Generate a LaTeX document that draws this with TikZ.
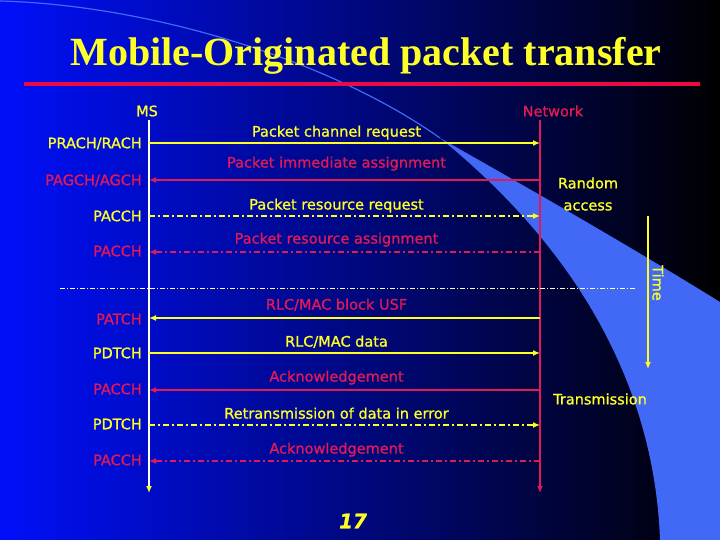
\documentclass[tikz,border=0pt]{standalone}
\usepackage{fontspec}
\setmainfont[FakeBold=1]{DejaVu Sans}
\newfontfamily\titlefont{Liberation Serif}
\usetikzlibrary{arrows.meta}
\definecolor{slideyellow}{RGB}{255,255,40}
\definecolor{slidered}{RGB}{225,25,85}
\definecolor{msline}{RGB}{255,255,225}
\definecolor{swoosh}{RGB}{65,105,245}
\definecolor{bgblue}{RGB}{0,15,250}
\definecolor{bgmid}{RGB}{0,0,195}
\definecolor{barred}{RGB}{235,10,70}

\begin{document}
\begin{tikzpicture}[x=1pt, y=-1pt,
    lbl/.style={font=\fontsize{14.5}{16}\selectfont},
    chan/.style={lbl, anchor=east, inner sep=0pt, text height=10.5pt, text depth=0pt},
    msg/.style={line width=1.8pt},
    msgtext/.style={lbl, midway, above, xshift=-8pt, inner sep=2pt,
        text height=11pt, text depth=3.5pt},
    tip/.style={-{Latex[length=7pt,width=6pt]}},
    dashdot/.style={dash pattern=on 6pt off 3pt on 2pt off 3pt}
]
    \useasboundingbox (0,0) rectangle (720,540);
    \shade[left color=bgblue, middle color=bgmid, right color=black] (0,0) rectangle (720,540);
    \fill[swoosh] (440,138) .. controls (500,172) and (620,240) .. (720,302)
        -- (720,540) -- (660,540) .. controls (655,400) and (590,260) .. (440,138) -- cycle;
    \draw[swoosh, line width=1.2pt] (0,1) .. controls (150,5) and (330,60) .. (440,138);

    \node[font=\titlefont\bfseries\fontsize{40}{44}\selectfont, text=slideyellow, anchor=base]
        (title) at (366,66) {Mobile-Originated packet transfer};
    \draw[barred, line width=4pt] (24,84) -- (700,84);

    \node[lbl, text=slideyellow] (ms) at (147,111) {MS};
    \node[lbl, text=slidered] (network) at (553,111) {Network};

    \coordinate (ms0) at (149,120);
    \coordinate (ms1) at (149,143);
    \coordinate (ms2) at (149,180);
    \coordinate (ms3) at (149,216);
    \coordinate (ms4) at (149,252);
    \coordinate (ms5) at (149,318);
    \coordinate (ms6) at (149,353);
    \coordinate (ms7) at (149,390);
    \coordinate (ms8) at (149,425);
    \coordinate (ms9) at (149,461);
    \coordinate (msend) at (149,493);
    \coordinate (nw0) at (540,120);
    \coordinate (nw1) at (540,143);
    \coordinate (nw2) at (540,180);
    \coordinate (nw3) at (540,216);
    \coordinate (nw4) at (540,252);
    \coordinate (nw5) at (540,318);
    \coordinate (nw6) at (540,353);
    \coordinate (nw7) at (540,390);
    \coordinate (nw8) at (540,425);
    \coordinate (nw9) at (540,461);
    \coordinate (nwend) at (540,493);
    \coordinate (sepl) at (60,288);
    \coordinate (sepr) at (637,288);
    \coordinate (time0) at (648,216);
    \coordinate (time1) at (648,369);

    \draw[msg, msline, -{Latex[length=7pt,width=6pt,color=slideyellow]}] (ms0) -- (msend);
    \draw[msg, slidered, tip] (nw0) -- (nwend);

    \node[chan, text=slideyellow] (prach) at (142,143) {PRACH/RACH};
    \node[chan, text=slidered] (pagch) at (142,180) {PAGCH/AGCH};
    \node[chan, text=slideyellow] (pacch1) at (142,216) {PACCH};
    \node[chan, text=slidered] (pacch2) at (142,251) {PACCH};
    \node[chan, text=slidered] (patch) at (142,319) {PATCH};
    \node[chan, text=slideyellow] (pdtch1) at (142,353) {PDTCH};
    \node[chan, text=slidered] (pacch3) at (142,389) {PACCH};
    \node[chan, text=slideyellow] (pdtch2) at (142,424) {PDTCH};
    \node[chan, text=slidered] (pacch4) at (142,460) {PACCH};

    \draw[msg, slideyellow, tip] (ms1) -- (nw1) node[msgtext] {Packet channel request};
    \draw[msg, slidered, tip] (nw2) -- (ms2) node[msgtext, yshift=6pt] {Packet immediate assignment};
    \draw[msg, slideyellow, dashdot, tip] (ms3) -- (nw3) node[msgtext] {Packet resource request};
    \draw[msg, slidered, dashdot, tip] (nw4) -- (ms4) node[msgtext, yshift=2pt] {Packet resource assignment};
    \draw[msline, line width=0.7pt, dash pattern=on 5pt off 2pt on 1pt off 2pt] (sepl) -- (sepr);
    \draw[msg, slideyellow, tip] (nw5) -- (ms5) node[msgtext, text=slidered, yshift=2pt] {RLC/MAC block USF};
    \draw[msg, slideyellow, tip] (ms6) -- (nw6) node[msgtext] {RLC/MAC data};
    \draw[msg, slidered, tip] (nw7) -- (ms7) node[msgtext, yshift=2pt] {Acknowledgement};
    \draw[msg, slideyellow, dashdot, tip] (ms8) -- (nw8) node[msgtext] {Retransmission of data in error};
    \draw[msg, slidered, dashdot, tip] (nw9) -- (ms9) node[msgtext, yshift=1pt] {Acknowledgement};

    \node[font=\fontsize{14.5}{22}\selectfont, text=slideyellow, align=center]
        (random) at (588,194) {Random\\access};
    \draw[msg, slideyellow, tip] (time0) -- (time1);
    \node[lbl, text=slideyellow, rotate=-90] (time) at (658,283) {Time};
    \node[lbl, text=slideyellow] (transmission) at (600,399) {Transmission};

    \node[font=\bfseries\itshape\fontsize{20}{22}\selectfont, text=slideyellow] (page) at (353,521) {17};
\end{tikzpicture}
\end{document}
